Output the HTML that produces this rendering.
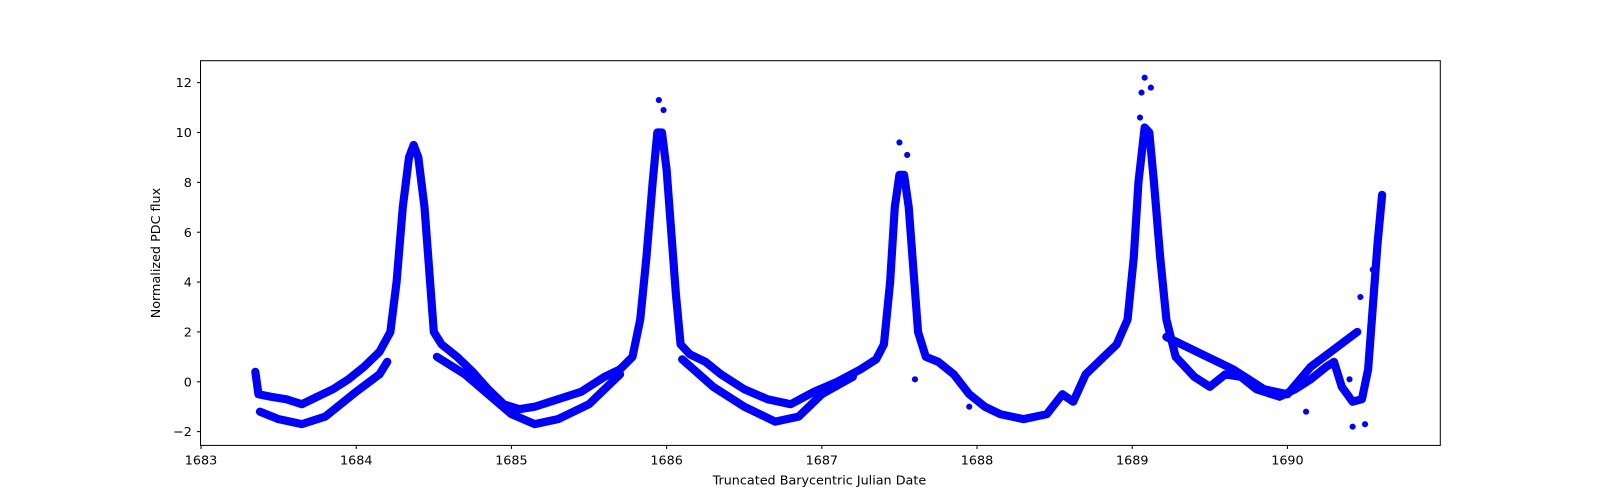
<!DOCTYPE html>
<html><head><meta charset="utf-8">
<style>
html,body{margin:0;padding:0;background:#fff;overflow:hidden;width:1600px;height:500px;}
svg{display:block;}
svg text{font-family:"DejaVu Sans","Liberation Sans",sans-serif;font-size:12.5px;fill:#000;}
</style></head>
<body>
<svg id="chart" width="1600" height="500" xmlns="http://www.w3.org/2000/svg">
<g transform="scale(1.0204)">
<g id="marks"></g>
<rect x="196.5" y="59.5" width="1215" height="377" fill="none" stroke="#000" stroke-width="1"/>
<g id="axes"></g>
<text x="803" y="475" text-anchor="middle">Truncated Barycentric Julian Date</text>
<text transform="translate(157,248) rotate(-90)" text-anchor="middle">Normalized PDC flux</text>
</g>
</svg>
<script>
const xTicks = [1683,1684,1685,1686,1687,1688,1689,1690];
const yTicks = [-2,0,2,4,6,8,10,12];
const mainT = [1683.35,1683.37,1683.45,1683.55,1683.65,1683.75,1683.85,1683.95,1684.05,1684.15,1684.22,1684.26,1684.3,1684.34,1684.37,1684.4,1684.44,1684.47,1684.5,1684.55,1684.65,1684.75,1684.85,1684.95,1685.05,1685.15,1685.3,1685.45,1685.6,1685.7,1685.78,1685.83,1685.87,1685.91,1685.94,1685.97,1686.0,1686.03,1686.06,1686.09,1686.15,1686.25,1686.35,1686.5,1686.65,1686.8,1686.95,1687.1,1687.25,1687.35,1687.4,1687.44,1687.47,1687.5,1687.53,1687.56,1687.59,1687.62,1687.67,1687.75,1687.85,1687.95,1688.05,1688.15,1688.3,1688.45,1688.55,1688.62,1688.7,1688.8,1688.9,1688.97,1689.01,1689.04,1689.08,1689.11,1689.14,1689.18,1689.22,1689.28,1689.4,1689.5,1689.6,1689.7,1689.8,1689.95,1690.05,1690.15,1690.25,1690.3,1690.35,1690.42,1690.48,1690.52,1690.55,1690.58,1690.61];
const mainV = [0.4,-0.5,-0.6,-0.7,-0.9,-0.6,-0.3,0.1,0.6,1.2,2.0,4,7,9.0,9.5,9.0,7.0,4.5,2.0,1.5,1.0,0.4,-0.3,-0.9,-1.1,-1.0,-0.7,-0.4,0.2,0.5,1.0,2.5,5,8,10.0,10.0,8.5,6,3.5,1.5,1.1,0.8,0.3,-0.3,-0.7,-0.9,-0.4,0.0,0.5,0.9,1.5,4,7,8.3,8.3,7,4.5,2.0,1.0,0.8,0.3,-0.5,-1.0,-1.3,-1.5,-1.3,-0.5,-0.8,0.3,0.9,1.5,2.5,5,8,10.2,10.0,8,5,2.5,1.0,0.2,-0.2,0.3,0.2,-0.3,-0.6,-0.3,0.1,0.6,0.8,-0.2,-0.8,-0.7,0.5,3,5.5,7.5];
const low1T = [1683.38,1683.5,1683.65,1683.8,1684.0,1684.15,1684.2];
const low1V = [-1.2,-1.5,-1.7,-1.4,-0.4,0.3,0.8];
const low2T = [1684.52,1684.7,1684.85,1685.0,1685.15,1685.3,1685.5,1685.7];
const low2V = [1.0,0.3,-0.5,-1.3,-1.7,-1.5,-0.9,0.3];
const low3T = [1686.1,1686.3,1686.5,1686.7,1686.85,1687.0,1687.2];
const low3V = [0.9,-0.2,-1.0,-1.6,-1.4,-0.5,0.2];
const low4T = [1689.22,1689.45,1689.65,1689.85,1690.0,1690.15,1690.3,1690.45];
const low4V = [1.8,1.1,0.5,-0.3,-0.5,0.6,1.3,2.0];
const outT = [1685.95,1685.98,1687.5,1687.55,1689.05,1689.08,1689.12,1689.06,1687.6,1687.95,1690.12,1690.42,1690.5,1690.47,1690.52,1690.55,1690.4,1690.35];
const outV = [11.3,10.9,9.6,9.1,10.6,12.2,11.8,11.6,0.1,-1.0,-1.2,-1.8,-1.7,3.4,1.0,4.5,0.1,-0.2];

const xs = t => 197 + (t - 1683) * 152.1;
const ys = v => 423 - (v + 2) * 24.43;
const NS = "http://www.w3.org/2000/svg";
const marks = document.getElementById('marks');
const axes = document.getElementById('axes');

function series(T, V, name) {
  const pl = document.createElementNS(NS, 'polyline');
  
  
  pl.setAttribute('points', T.map((t, i) => xs(t) + ',' + ys(V[i])).join(' '));
  pl.setAttribute('fill', 'none');
  pl.setAttribute('stroke', '#0000ff');
  pl.setAttribute('stroke-width', '8');
  pl.setAttribute('stroke-linejoin', 'round');
  pl.setAttribute('stroke-linecap', 'round');
  marks.appendChild(pl);
}
series(mainT, mainV, 'main-flux-band');
series(low1T, low1V, 'lower-flux-band-1');
series(low2T, low2V, 'lower-flux-band-2');
series(low3T, low3V, 'lower-flux-band-3');
series(low4T, low4V, 'lower-flux-band-4');
outT.forEach((t, i) => {
  const c = document.createElementNS(NS, 'circle');
  
  
  c.setAttribute('cx', xs(t));
  c.setAttribute('cy', ys(outV[i]));
  c.setAttribute('r', 3);
  c.setAttribute('fill', '#0000ff');
  marks.appendChild(c);
});

xTicks.forEach(t => {
  const x = xs(t);
  const l = document.createElementNS(NS, 'line');
  
  
  l.setAttribute('x1', x); l.setAttribute('x2', x);
  l.setAttribute('y1', 436.5); l.setAttribute('y2', 440);
  l.setAttribute('stroke', '#000');
  axes.appendChild(l);
  const tx = document.createElementNS(NS, 'text');
  
  
  tx.setAttribute('x', x); tx.setAttribute('y', 455);
  tx.setAttribute('text-anchor', 'middle');
  tx.textContent = t;
  axes.appendChild(tx);
});
yTicks.forEach(v => {
  const y = ys(v);
  const l = document.createElementNS(NS, 'line');
  
  
  l.setAttribute('x1', 193); l.setAttribute('x2', 196.5);
  l.setAttribute('y1', y); l.setAttribute('y2', y);
  l.setAttribute('stroke', '#000');
  axes.appendChild(l);
  const tx = document.createElementNS(NS, 'text');
  
  
  tx.setAttribute('x', 188); tx.setAttribute('y', y + 4.5);
  tx.setAttribute('text-anchor', 'end');
  tx.textContent = v < 0 ? '\u2212' + Math.abs(v) : v;
  axes.appendChild(tx);
});
</script>
</body></html>
